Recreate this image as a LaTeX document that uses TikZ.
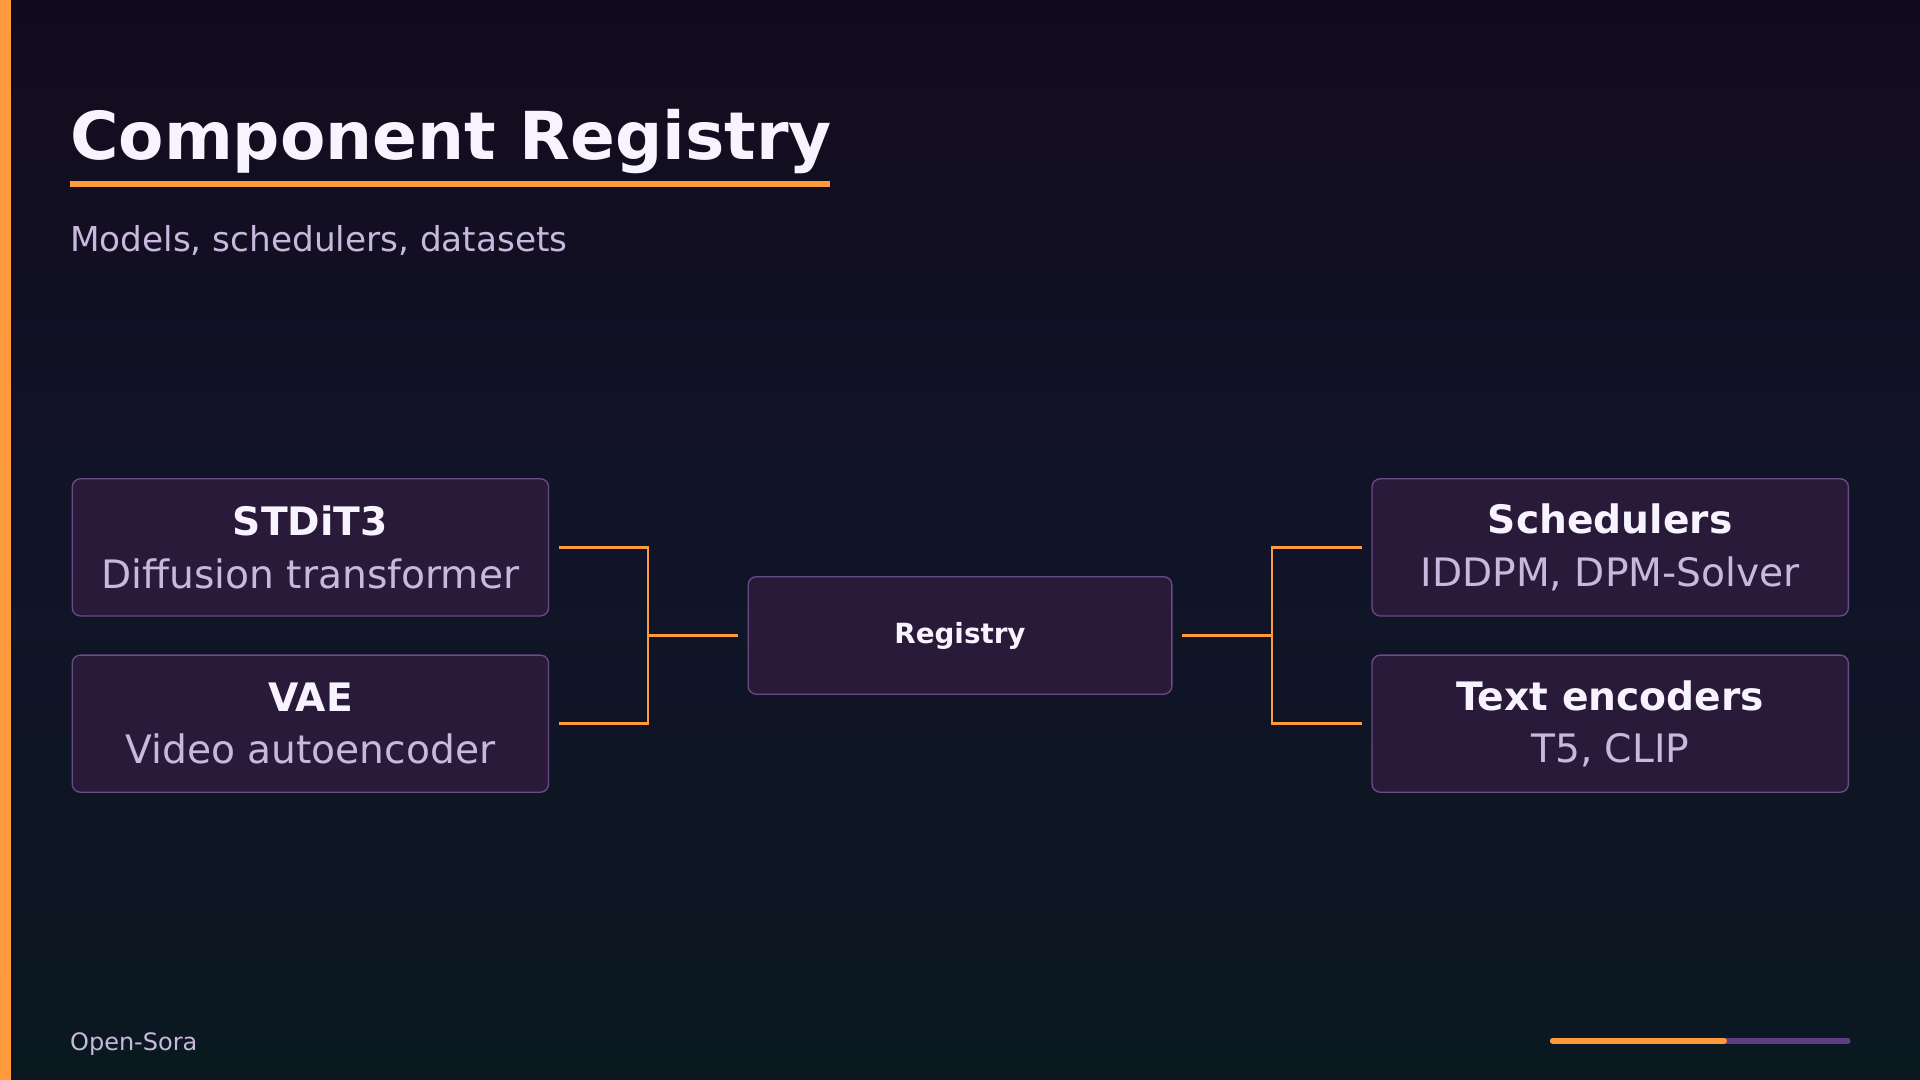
\documentclass[tikz,border=0pt]{standalone}
\usepackage{fontspec}
\setmainfont{DejaVu Sans}
\usetikzlibrary{calc}
\definecolor{bgA}{HTML}{120B1D}
\definecolor{bgB}{HTML}{0A1820}
\definecolor{bgC}{HTML}{111428}
\definecolor{accent}{HTML}{FF9A3C}
\definecolor{boxfill}{HTML}{2A1A3A}
\definecolor{boxline}{HTML}{6A4C85}
\definecolor{txt}{HTML}{F8F4FF}
\definecolor{sub}{HTML}{C9B8DD}
\definecolor{bar}{HTML}{5E3F82}
\begin{document}
\begin{tikzpicture}[x=0.75pt,y=-0.75pt,
  card/.style={draw=boxline,line width=0.8pt,fill=boxfill,rounded corners=5pt,minimum width=389*0.75pt,minimum height=112*0.75pt,inner sep=0pt,align=center,font=\fontsize{24}{32}\selectfont},
  link/.style={draw=accent,line width=1.5pt}]
\useasboundingbox (0,0) rectangle (1568,882);
\shade[top color=bgA,bottom color=bgB,middle color=bgC] (0,0) rectangle (1568,882);
\fill[accent] (0,0) rectangle (9,882);
\node[anchor=base west,inner sep=0pt,text=txt,font=\fontsize{40.5}{48}\selectfont\bfseries] (title) at (57,130) {Component Registry};
\fill[accent] (57,148) rectangle (678,153);
\node[anchor=base west,inner sep=0pt,text=sub,font=\fontsize{21}{25}\selectfont] (subt) at (57,205) {Models, schedulers, datasets};
\node[card] (st) at (253.5,447) {\textcolor{txt}{\bfseries STDiT3}\\\textcolor{sub}{Diffusion transformer}};
\node[card] (vae) at (253.5,591) {\textcolor{txt}{\bfseries VAE}\\\textcolor{sub}{Video autoencoder}};
\node[card] (sch) at (1315,447) {\textcolor{txt}{\bfseries Schedulers}\\\textcolor{sub}{IDDPM, DPM-Solver}};
\node[card] (te) at (1315,591) {\textcolor{txt}{\bfseries Text encoders}\\\textcolor{sub}{T5, CLIP}};
\node[card,minimum width=346*0.75pt,minimum height=96*0.75pt,text=txt,font=\fontsize{17}{20}\selectfont\bfseries] (reg) at (784,519) {Registry};
\coordinate (lj) at (529,519);
\coordinate (rj) at (1039,519);
\draw[link] ([xshift=6pt]st.east) -| (lj);
\draw[link] ([xshift=6pt]vae.east) -| (lj);
\draw[link] (lj) -- ([xshift=-6pt]reg.west);
\draw[link] ([xshift=6pt]reg.east) -- (rj);
\draw[link] ([xshift=-6pt]sch.west) -| (rj);
\draw[link] ([xshift=-6pt]te.west) -| (rj);
\node[anchor=base west,inner sep=0pt,text=sub,font=\fontsize{14.7}{17}\selectfont] (foot) at (57,858) {Open-Sora};
\draw[line width=3.5pt,line cap=round,bar] (1408,850) -- (1509,850);
\draw[line width=3.5pt,line cap=round,accent] (1268,850) -- (1408,850);
\end{tikzpicture}
\end{document}
